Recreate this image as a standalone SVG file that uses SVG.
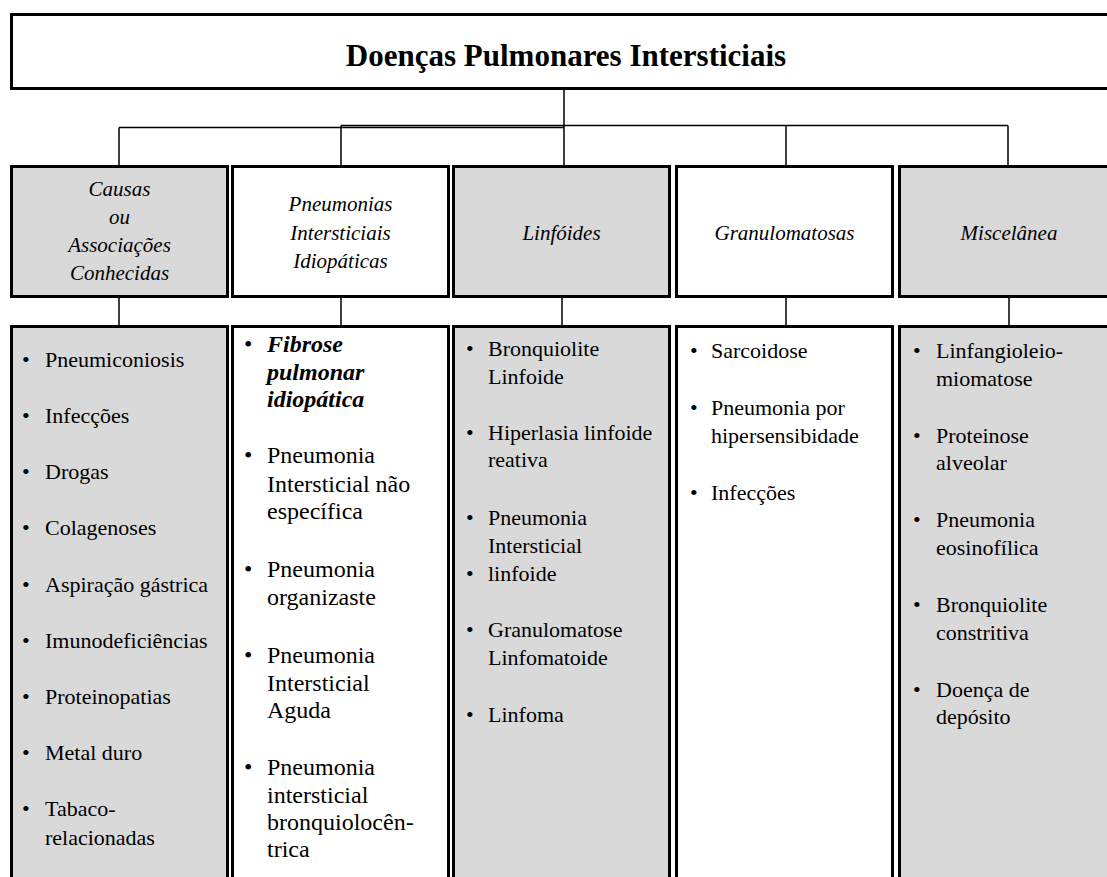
<svg xmlns="http://www.w3.org/2000/svg" width="1107" height="877" viewBox="0 0 1107 877" font-family="'Liberation Serif', 'Tinos', 'DejaVu Serif', serif">
<style>
.box{stroke:#000;stroke-width:3}
.g{fill:#d9d9d9}
.w{fill:#fff}
.conn{stroke:#000;stroke-width:1.5;fill:none}
text{font-family:'Liberation Serif','Tinos','DejaVu Serif',serif;fill:#000}
.title{font-size:31px;font-weight:bold;text-anchor:middle}
.hd{font-size:21px;font-style:italic;text-anchor:middle}
.l1{font-size:22px}
.l2{font-size:24px}
.l3{font-size:22px}
.bi{font-weight:bold;font-style:italic}
</style>
<rect width="1107" height="877" fill="#fff"/>
<g id="connectors">
<path class="conn" d="M564 90V165M119 127.5H564M341 125.5H1008M119 127.5V165M341 125.5V165M786 125.5V165M1008 125.5V165"/>
<path class="conn" d="M119 298V325M341 298V325M562 298V325M786 298V325M1009 298V325"/>
</g>
<g id="root">
<rect class="box w" x="11.5" y="14.5" width="1110" height="74"/>
<text class="title" x="566" y="66">Doenças Pulmonares Intersticiais</text>
</g>
<g id="h1">
<rect class="box g" x="11.5" y="166.5" width="216" height="130"/>
<text class="hd" x="119.5" y="196">Causas</text>
<text class="hd" x="119.5" y="224">ou</text>
<text class="hd" x="119.5" y="252">Associações</text>
<text class="hd" x="119.5" y="280">Conhecidas</text>
</g>
<g id="h2">
<rect class="box w" x="232.5" y="166.5" width="216" height="130"/>
<text class="hd" x="340.5" y="211">Pneumonias</text>
<text class="hd" x="340.5" y="240">Intersticiais</text>
<text class="hd" x="340.5" y="268">Idiopáticas</text>
</g>
<g id="h3">
<rect class="box g" x="453.5" y="166.5" width="216" height="130"/>
<text class="hd" x="561.5" y="240">Linfóides</text>
</g>
<g id="h4">
<rect class="box w" x="676.5" y="166.5" width="216" height="130"/>
<text class="hd" x="784.5" y="240">Granulomatosas</text>
</g>
<g id="h5">
<rect class="box g" x="899.5" y="166.5" width="220" height="130"/>
<text class="hd" x="1009" y="240">Miscelânea</text>
</g>
<g id="list1">
<rect class="box g" x="11.5" y="326.5" width="216" height="600"/>
<g class="l1">
<text x="22" y="367">•</text><text x="45" y="367">Pneumiconiosis</text>
<text x="22" y="423">•</text><text x="45" y="423">Infecções</text>
<text x="22" y="479">•</text><text x="45" y="479">Drogas</text>
<text x="22" y="535">•</text><text x="45" y="535">Colagenoses</text>
<text x="22" y="592">•</text><text x="45" y="592">Aspiração gástrica</text>
<text x="22" y="648">•</text><text x="45" y="648">Imunodeficiências</text>
<text x="22" y="704">•</text><text x="45" y="704">Proteinopatias</text>
<text x="22" y="760">•</text><text x="45" y="760">Metal duro</text>
<text x="22" y="816">•</text><text x="45" y="816">Tabaco-</text>
<text x="45" y="845">relacionadas</text>
</g>
</g>
<g id="list2">
<rect class="box w" x="232.5" y="326.5" width="216" height="600"/>
<g class="l2">
<text x="244" y="352">•</text>
<text class="bi" x="267" y="352">Fibrose</text>
<text class="bi" x="267" y="380">pulmonar</text>
<text class="bi" x="267" y="407">idiopática</text>
<text x="244" y="463">•</text><text x="267" y="463">Pneumonia</text>
<text x="267" y="492">Intersticial não</text>
<text x="267" y="519">específica</text>
<text x="244" y="577">•</text><text x="267" y="577">Pneumonia</text>
<text x="267" y="605">organizaste</text>
<text x="244" y="663">•</text><text x="267" y="663">Pneumonia</text>
<text x="267" y="691">Intersticial</text>
<text x="267" y="718">Aguda</text>
<text x="244" y="775">•</text><text x="267" y="775">Pneumonia</text>
<text x="267" y="803">intersticial</text>
<text x="267" y="830">bronquiolocên-</text>
<text x="267" y="857">trica</text>
</g>
</g>
<g id="list3">
<rect class="box g" x="453.5" y="326.5" width="216" height="600"/>
<g class="l3">
<text x="466" y="356">•</text><text x="488" y="356">Bronquiolite</text>
<text x="488" y="384">Linfoide</text>
<text x="466" y="440">•</text><text x="488" y="440">Hiperlasia linfoide</text>
<text x="488" y="467">reativa</text>
<text x="466" y="525">•</text><text x="488" y="525">Pneumonia</text>
<text x="488" y="553">Intersticial</text>
<text x="466" y="581">•</text><text x="488" y="581">linfoide</text>
<text x="466" y="637">•</text><text x="488" y="637">Granulomatose</text>
<text x="488" y="665">Linfomatoide</text>
<text x="466" y="722">•</text><text x="488" y="722">Linfoma</text>
</g>
</g>
<g id="list4">
<rect class="box w" x="676.5" y="326.5" width="216" height="600"/>
<g class="l3">
<text x="690" y="358">•</text><text x="711" y="358">Sarcoidose</text>
<text x="690" y="415">•</text><text x="711" y="415">Pneumonia por</text>
<text x="711" y="443">hipersensibidade</text>
<text x="690" y="500">•</text><text x="711" y="500">Infecções</text>
</g>
</g>
<g id="list5">
<rect class="box g" x="899.5" y="326.5" width="220" height="600"/>
<g class="l3">
<text x="913" y="358">•</text><text x="936" y="358">Linfangioleio-</text>
<text x="936" y="386">miomatose</text>
<text x="913" y="443">•</text><text x="936" y="443">Proteinose</text>
<text x="936" y="470">alveolar</text>
<text x="913" y="527">•</text><text x="936" y="527">Pneumonia</text>
<text x="936" y="555">eosinofílica</text>
<text x="913" y="612">•</text><text x="936" y="612">Bronquiolite</text>
<text x="936" y="640">constritiva</text>
<text x="913" y="697">•</text><text x="936" y="697">Doença de</text>
<text x="936" y="724">depósito</text>
</g>
</g>
</svg>
